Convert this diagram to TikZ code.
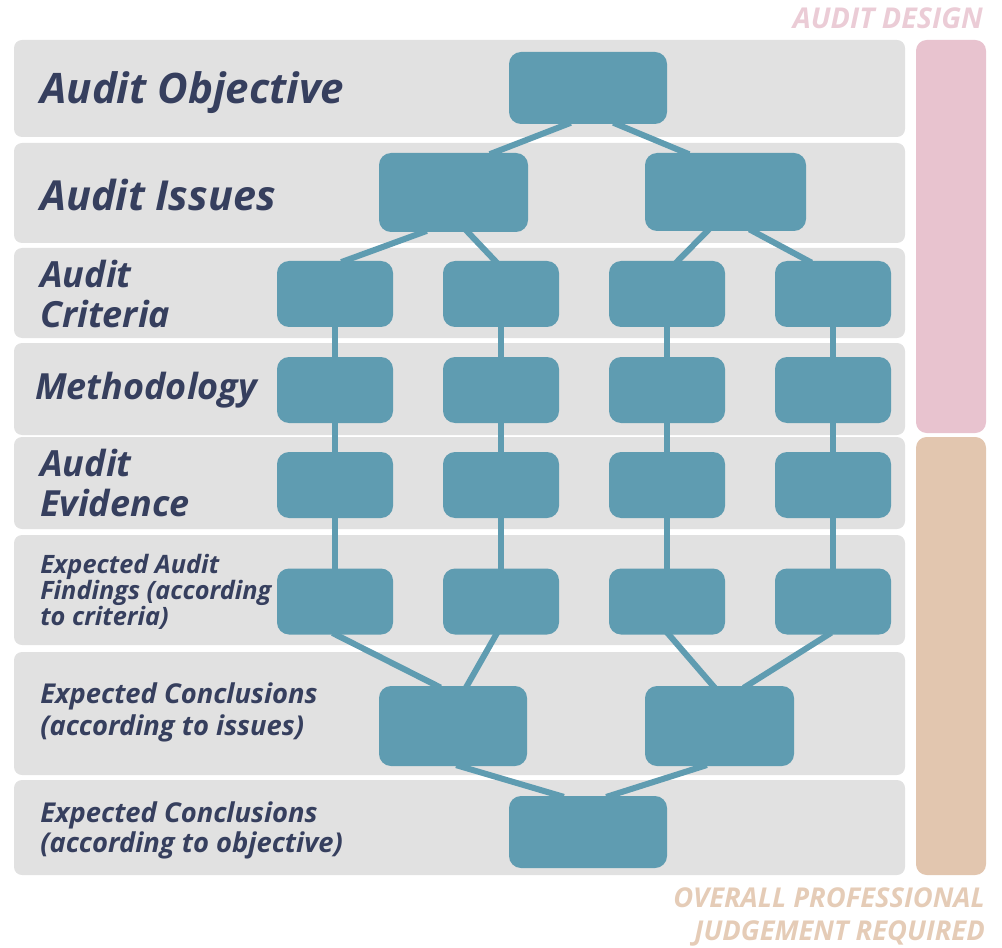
\documentclass[tikz,border=0pt]{standalone}
\usepackage{fontspec}
\setmainfont{Open Sans}
\usetikzlibrary{positioning, calc}
\definecolor{audit_blue}{HTML}{5F9CB1}
\definecolor{band_grey}{HTML}{E1E1E1}
\definecolor{design_pink}{HTML}{E8C3CF}
\definecolor{judge_tan}{HTML}{E2C6AF}
\definecolor{label_navy}{HTML}{363F5E}
\tikzset{
	box/.style={fill=audit_blue, rounded corners=9pt, inner sep=0pt},
	smallbox/.style={box, minimum width=87pt, minimum height=49.5pt},
	link/.style={draw=audit_blue, line width=4.5pt, shorten <=-3pt, shorten >=-3pt},
	rowlabel/.style={anchor=west, inner sep=0pt, align=left, text=label_navy, font=\bfseries\itshape},
	sidelabel/.style={inner sep=0pt, align=right, font=\bfseries\itshape\fontsize{20.5}{25}\selectfont}
}

\begin{document}
\begin{tikzpicture}[x=0.75pt, y=-0.75pt, line join=round]
	\useasboundingbox (0,0) rectangle (1002,948);

	% grey rows and side bars
	\foreach \top/\bot in {40/137, 143/243, 248/338, 343/435, 437/529, 535/645, 652/775, 780/875}
		\fill[band_grey, rounded corners=6pt] (14,\top) rectangle (905,\bot);
	\fill[design_pink, rounded corners=8pt] (916,40) rectangle (986,433);
	\fill[judge_tan, rounded corners=8pt] (916,437) rectangle (986,875);

	\node[sidelabel, anchor=base east, text=design_pink!85!white, font=\bfseries\itshape\fontsize{21.5}{25}\selectfont] (design) at (983,29) {AUDIT DESIGN};
	\node[sidelabel, anchor=east, text=judge_tan!90!white] (judgement) at (985,917)
		{OVERALL PROFESSIONAL\\JUDGEMENT REQUIRED};

	% row labels
	\node[rowlabel, font=\bfseries\itshape\fontsize{31.5}{36}\selectfont] (lobj) at (40,93) {Audit Objective};
	\node[rowlabel, font=\bfseries\itshape\fontsize{31}{36}\selectfont] (liss) at (40,195) {Audit Issues};
	\node[rowlabel, font=\bfseries\itshape\fontsize{27}{30}\selectfont] (lcrit) at (40,294) {Audit\\Criteria};
	\node[rowlabel, font=\bfseries\itshape\fontsize{27}{30}\selectfont] (lmeth) at (35,390) {Methodology};
	\node[rowlabel, font=\bfseries\itshape\fontsize{27}{30}\selectfont] (levid) at (40,483) {Audit\\Evidence};
	\node[rowlabel, font=\bfseries\itshape\fontsize{19}{19.5}\selectfont] (lfind) at (40,592) {Expected Audit\\Findings (according\\to criteria)};
	\node[rowlabel, font=\bfseries\itshape\fontsize{20.5}{24}\selectfont] (lconc) at (40,712) {Expected Conclusions\\(according to issues)};
	\node[rowlabel, font=\bfseries\itshape\fontsize{20.5}{22.5}\selectfont] (lfinal) at (40,830) {Expected Conclusions\\(according to objective)};

	% tree
	\node[box, minimum width=118.5pt, minimum height=54pt] (obj) at (588,88) {};
	\node[box, minimum width=111.75pt, minimum height=59.25pt] (issA) at (453.5,192.5) {};
	\node[box, minimum width=120.75pt, minimum height=58.5pt] (issB) at (725.5,192) {};
	\node[box, minimum width=111pt, minimum height=60pt] (concA) at (453,726) {};
	\node[box, minimum width=111.75pt, minimum height=60pt] (concB) at (719.5,726) {};
	\node[box, minimum width=118.5pt, minimum height=54pt] (final) at (588,832) {};

	\foreach \c/\x in {1/335, 2/501, 3/667, 4/833} {
		\node[smallbox] (crit\c) at (\x,294) {};
		\node[smallbox] (meth\c) at (\x,390) {};
		\node[smallbox] (evid\c) at (\x,485) {};
		\node[smallbox] (find\c) at (\x,601.5) {};
		\draw[link] (crit\c) -- (meth\c);
		\draw[link] (meth\c) -- (evid\c);
		\draw[link] (evid\c) -- (find\c);
	}

	\draw[link] ($(obj.south)+(-21,0)$) -- ($(issA.north)+(40,0)$);
	\draw[link] ($(obj.south)+(29,0)$) -- ($(issB.north)+(-40,0)$);
	\draw[link] ($(issA.south)+(-30.5,0)$) -- ($(crit1.north)+(10,0)$);
	\draw[link] ($(issA.south)+(14.5,0)$) -- ($(crit2.north)+(-6,0)$);
	\draw[link] ($(issB.south)+(-18.5,0)$) -- ($(crit3.north)+(11,0)$);
	\draw[link] ($(issB.south)+(27.5,0)$) -- ($(crit4.north)+(-25,0)$);

	\draw[link] ($(find1.south)+(1,0)$) -- ($(concA.north)+(-16,0)$);
	\draw[link] ($(find2.south)+(-5,0)$) -- ($(concA.north)+(14,0)$);
	\draw[link] ($(find3.south)+(2,0)$) -- ($(concB.north)+(-6.5,0)$);
	\draw[link] ($(find4.south)+(-5,0)$) -- ($(concB.north)+(27.5,0)$);
	\draw[link] ($(concA.south)+(7,0)$) -- ($(final.north)+(-28,0)$);
	\draw[link] ($(concB.south)+(-16.5,0)$) -- ($(final.north)+(22,0)$);
\end{tikzpicture}
\end{document}
